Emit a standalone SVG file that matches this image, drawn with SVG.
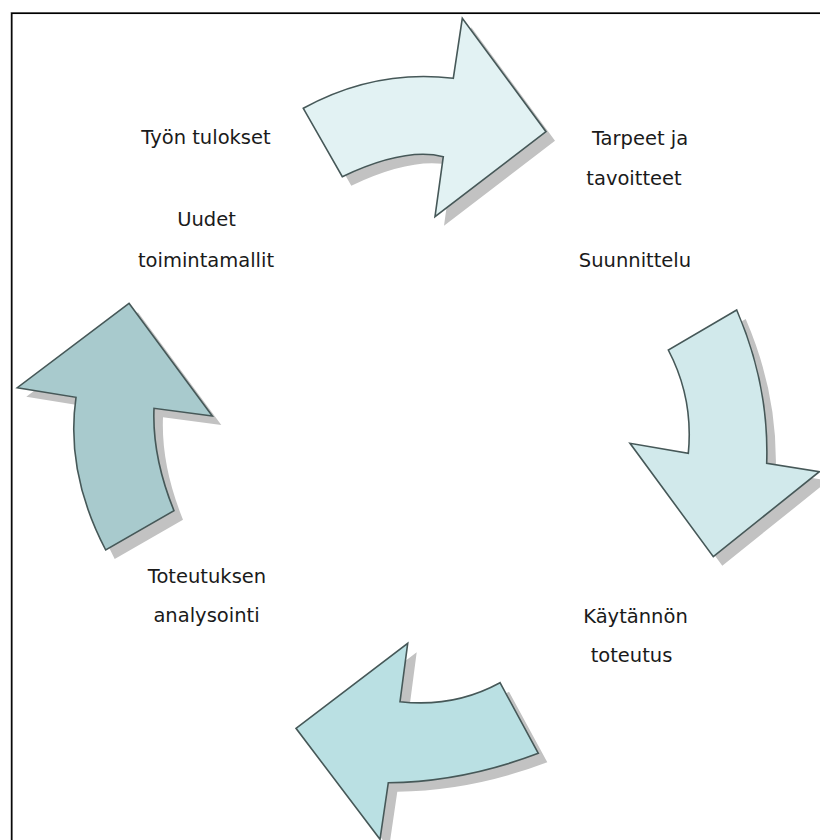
<svg xmlns="http://www.w3.org/2000/svg" width="820" height="840" viewBox="0 0 820 840">
<style>
.sh{fill:#c2c2c2;stroke:none}
.ar{stroke:#465858;stroke-width:1.6;stroke-linejoin:miter}
.t{font-family:"DejaVu Sans",Verdana,sans-serif;font-size:19.5px;fill:#1a1a1a;text-anchor:middle}
</style>
<defs>
<path id="pTop" d="M303.3,108.3 Q375,69 453.3,78.3 L462.3,18.3 L546,131.7 L435,216.7 L443.3,156.7 Q405,147 342.3,176.7 Z"/>
<path id="pRight" d="M736.7,310 L668.3,350 Q693.7,398.3 688.3,453.3 L630,443.3 L713.3,556.7 L819.3,471.7 L766.7,463.3 Q769.3,385.3 736.7,310 Z"/>
<path id="pBottom" d="M407.7,643.3 L400,701.7 Q454,707.8 500,682.7 L538.3,753.3 Q462.7,782 388.3,782.7 L380,839.3 L296,728.3 Z"/>
<path id="pLeft" d="M129,303.3 L212.3,416 L154,408.3 Q152,456.5 174,510.7 L105.7,550 Q65.2,472.4 76,397.3 L17.3,387.7 Z"/>
</defs>
<rect x="0" y="0" width="820" height="840" fill="#ffffff"/>
<rect x="11" y="12.5" width="830" height="850" fill="none" stroke="#9a9a9a" stroke-width="1"/>
<rect x="11.8" y="13.3" width="830" height="850" fill="none" stroke="#000000" stroke-width="1.5"/>
<g id="arrow-top">
<use href="#pTop" class="sh" transform="translate(9,9)"/>
<use href="#pTop" class="ar" fill="#e2f2f3"/>
</g>
<g id="arrow-right">
<use href="#pRight" class="sh" transform="translate(9,9)"/>
<use href="#pRight" class="ar" fill="#d1e9eb"/>
</g>
<g id="arrow-bottom">
<use href="#pBottom" class="sh" transform="translate(9,9)"/>
<use href="#pBottom" class="ar" fill="#bae0e3"/>
</g>
<g id="arrow-left">
<use href="#pLeft" class="sh" transform="translate(9,9)"/>
<use href="#pLeft" class="ar" fill="#a8cacd"/>
</g>
<g id="label-tulokset"><text class="t" x="206" y="144">Työn tulokset</text></g>
<g id="label-uudet"><text class="t" x="206.5" y="226">Uudet</text><text class="t" x="206" y="266.5">toimintamallit</text></g>
<g id="label-tarpeet"><text class="t" x="640" y="145">Tarpeet ja</text><text class="t" x="634" y="185">tavoitteet</text></g>
<g id="label-suunnittelu"><text class="t" x="635" y="266.5">Suunnittelu</text></g>
<g id="label-kaytannon"><text class="t" x="635.5" y="623">Käytännön</text><text class="t" x="631.5" y="661.5">toteutus</text></g>
<g id="label-analysointi"><text class="t" x="207" y="582.5">Toteutuksen</text><text class="t" x="206.5" y="621.5">analysointi</text></g>
<g id="connectors"></g>
</svg>
